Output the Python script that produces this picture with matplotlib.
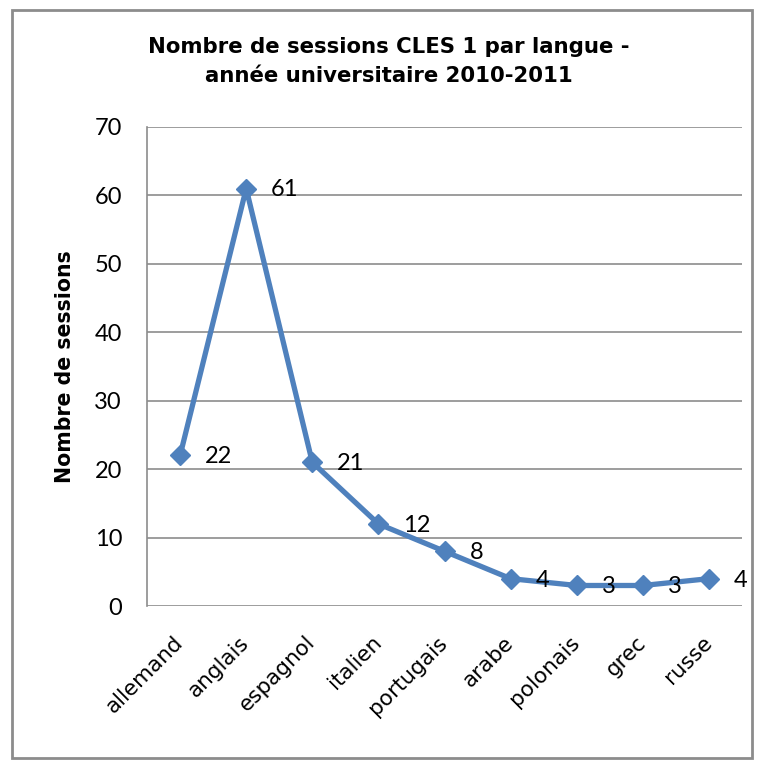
import matplotlib.pyplot as plt
from matplotlib.patches import Rectangle

langues = ['allemand', 'anglais', 'espagnol', 'italien', 'portugais',
           'arabe', 'polonais', 'grec', 'russe']
sessions = [22, 61, 21, 12, 8, 4, 3, 3, 4]
yticks = [0, 10, 20, 30, 40, 50, 60, 70]

bleu = '#4F81BD'
gris = '#8C8C8C'

fig = plt.figure(figsize=(7.63, 7.60), dpi=100)
ax = fig.add_axes([0.1927, 0.2026, 0.7798, 0.6303])

# cadre extérieur
fig.patches.append(Rectangle((0.016, 0.003), 0.97, 0.984, transform=fig.transFigure,
                             fill=False, edgecolor=gris, linewidth=2))

x = list(range(len(langues)))
ax.plot(x, sessions, color=bleu, linewidth=3.8, marker='D', markersize=10,
        markeredgecolor=bleu, markerfacecolor=bleu, zorder=3)

for xi, v in zip(x, sessions):
    ax.annotate(str(v), (xi, v), xytext=(18, -1), textcoords='offset points',
                ha='left', va='center', fontsize=17, family='Lato')

ax.set_xlim(-0.5, len(langues) - 0.5)
ax.set_ylim(0, 70)
ax.set_yticks(yticks)
ax.set_yticklabels([str(t) for t in yticks], fontsize=17, family='Lato')
ax.set_xticks(x)
ax.set_xticklabels(langues, rotation=45, ha='right', va='center',
                   rotation_mode='anchor', fontsize=15.5, family='DejaVu Sans')
ax.tick_params(axis='y', length=0, pad=18)
ax.tick_params(axis='x', length=0, pad=24)

ax.grid(axis='y', color=gris, linewidth=1.2)
ax.set_axisbelow(True)
for s in ['top', 'right', 'bottom']:
    ax.spines[s].set_visible(False)
ax.spines['left'].set_color(gris)
ax.spines['left'].set_linewidth(1.2)

ax.set_ylabel('Nombre de sessions', fontsize=14.8, fontweight='bold', labelpad=14)

fig.text(0.51, 0.919, 'Nombre de sessions CLES 1 par langue -\nannée universitaire 2010-2011',
         ha='center', va='center', fontsize=15.3, fontweight='bold', linespacing=1.55)

fig.savefig('out.png', dpi=100)
